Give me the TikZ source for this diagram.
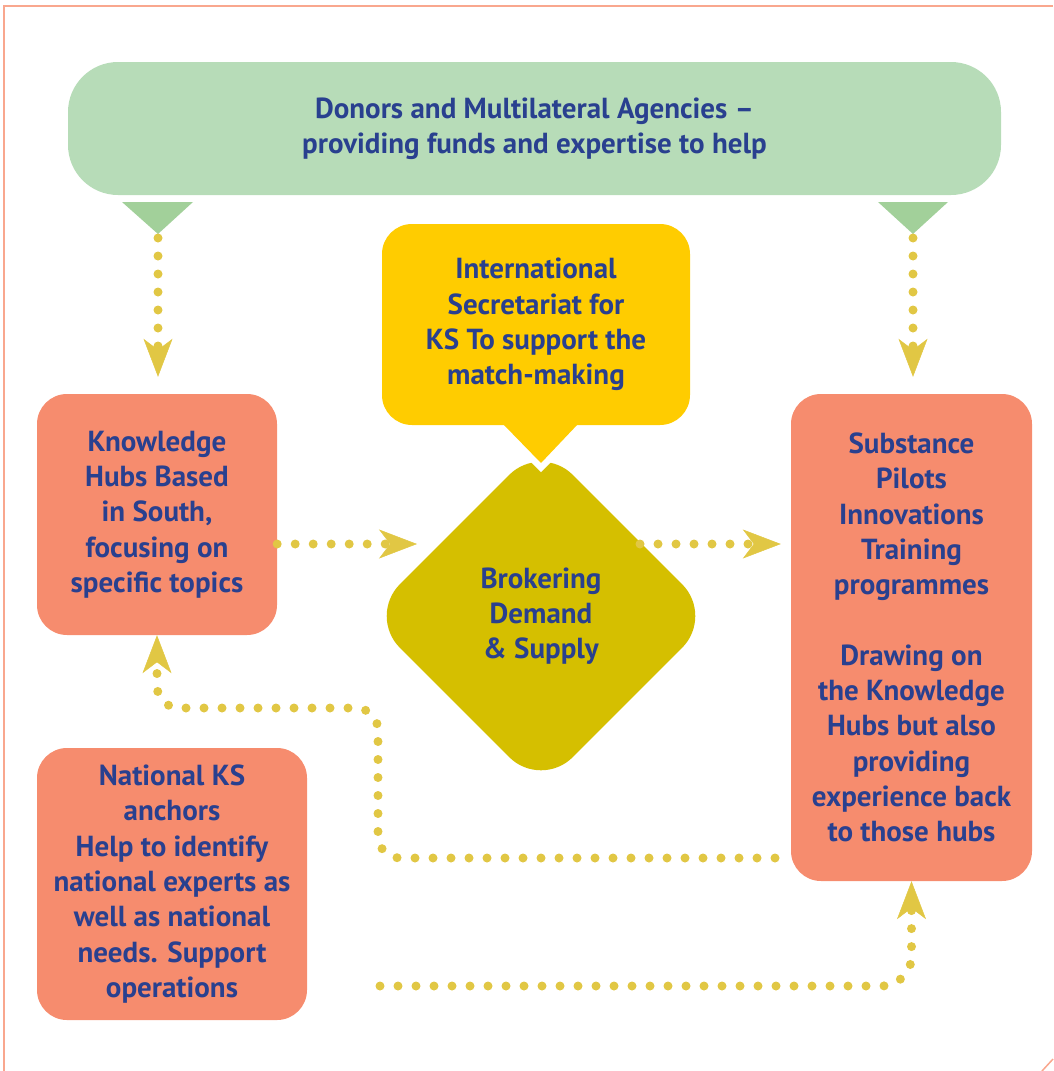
\documentclass[tikz,border=0pt]{standalone}
\usepackage{fontspec}
\setmainfont{PT Sans}
\usetikzlibrary{arrows.meta,shapes.geometric}
\definecolor{framepink}{HTML}{F9A78E}
\definecolor{donorgreen}{HTML}{B7DCB8}
\definecolor{tipgreen}{HTML}{A2D09A}
\definecolor{secyellow}{HTML}{FFCC00}
\definecolor{brokeryellow}{HTML}{D5BF00}
\definecolor{hubsalmon}{HTML}{F68C6E}
\definecolor{inkblue}{HTML}{29408F}
\definecolor{dotyellow}{HTML}{E1C744}
\tikzset{
  label text/.style={text=inkblue, align=center, inner sep=0pt,
    font=\bfseries\fontsize{29}{35.3}\selectfont},
  hub/.style={label text, fill=hubsalmon, rounded corners=30pt},
  conn/.style={draw=dotyellow, line width=9pt, line cap=round,
    dash pattern=on 0pt off 18pt,
    -{Stealth[length=38pt,width=29pt,inset=11pt,line width=0.5pt]}},
}
\begin{document}
\begin{tikzpicture}[x=1pt,y=-1pt]
    \useasboundingbox (0,0) rectangle (1053,1071);
    %frame
    \draw[framepink,line width=2pt] (4,1071)--(4,6)--(1053,6);
    \draw[framepink,line width=1.5pt] (1042,1071)--(1053,1059);
    %donors
    \node[label text,fill=donorgreen,rounded corners=50pt,
      minimum width=933pt,minimum height=133pt] (donors) at (534.5,128.5)
      {Donors and Multilateral Agencies --\\providing funds and expertise to help};
    \fill[tipgreen] (122,202)--(193,202)--(158,234)--cycle;
    \fill[tipgreen] (878,202)--(948,202)--(913,234)--cycle;
    \coordinate (ltip) at (158,238);
    \coordinate (rtip) at (913,238);
    %brokering
    \node[label text,diamond,aspect=1,fill=brokeryellow,rounded corners=45pt,
      minimum width=346pt,minimum height=346pt] (broker) at (541,616)
      {Brokering\\Demand\\\& Supply};
    %secretariat
    \fill[white] (494,425)--(541,472)--(588,425)--cycle;
    \node[label text,fill=secyellow,rounded corners=30pt,
      minimum width=308pt,minimum height=201pt] (sec) at (536,324.5)
      {International\\Secretariat for\\KS To support the\\match-making};
    \fill[secyellow] (503,424)--(541,463)--(578,424)--cycle;
    %hubs
    \node[hub,minimum width=240pt,minimum height=241pt] (hubs) at (157,514.5)
      {Knowledge\\Hubs Based\\in South,\\focusing on\\specific topics};
    \node[hub,minimum width=241pt,minimum height=487pt] (sub) at (911.5,637.5)
      {Substance\\Pilots\\Innovations\\Training\\programmes\\[35.3pt]Drawing on\\the Knowledge\\Hubs but also\\providing\\experience back\\to those hubs};
    \node[hub,minimum width=270pt,minimum height=272pt] (anchors) at (172,884)
      {National KS\\anchors\\Help to identify\\national experts as\\well as national\\needs. Support\\operations};
    %connectors
    \coordinate (row) at (0,544);
    \coordinate (bin) at (417,544);
    \coordinate (bout) at (640,544);
    \coordinate (back) at (775,858);
    \coordinate (elbow) at (378,708);
    \coordinate (fwd) at (380,986);
    \draw[conn,shorten >=17pt] (ltip)--(ltip |- hubs.north);
    \draw[conn,shorten >=17pt] (rtip)--(rtip |- sub.north);
    \draw[conn] (hubs.east |- row)--(bin);
    \draw[conn,shorten >=10pt] (bout)--(sub.west |- bout);
    \draw[conn,rounded corners=22pt] (back)--(back -| elbow)--(elbow)
      --(elbow -| hubs.south)--(hubs.south);
    \draw[conn,rounded corners=30pt] (fwd)--(fwd -| sub.south)--(sub.south);
\end{tikzpicture}
\end{document}
